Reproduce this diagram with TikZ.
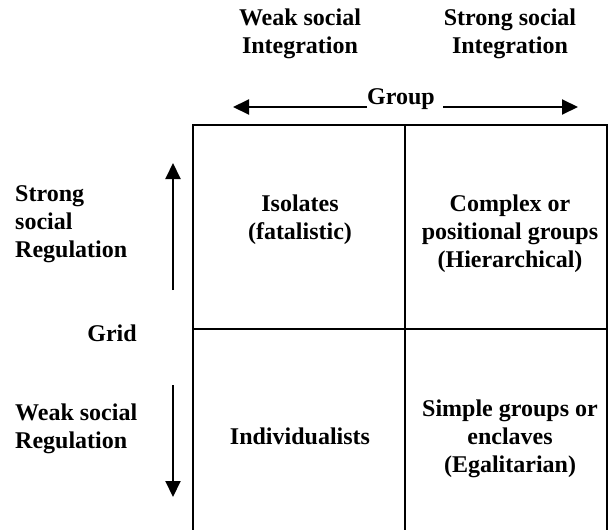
\documentclass[tikz,border=0pt]{standalone}
\usepackage{fontspec}
\setmainfont{Liberation Serif}
\usetikzlibrary{arrows.meta}
\begin{document}
\begin{tikzpicture}[x=1pt,y=-1pt,
  lbl/.style={font=\fontsize{24}{28}\selectfont\bfseries,align=center,inner sep=0pt},
  side/.style={lbl,align=left,anchor=west},
  gridline/.style={line width=2pt},
  axis/.style={line width=2pt,-{Triangle[length=16pt,width=15pt]}}]
  \clip (0,0) rectangle (608,530);
  \fill[white] (0,0) rectangle (608,530);

  % the two-by-two grid
  \draw[gridline] (193,560) -- (193,125) -- (607,125) -- (607,560);
  \draw[gridline] (405,125) -- (405,560);
  \draw[gridline] (193,329) -- (607,329);

  % column headings
  \node[lbl] (weakint) at (300,34) {Weak social\\Integration};
  \node[lbl] (strongint) at (510,34) {Strong social\\Integration};

  % group axis
  \node[lbl] (group) at (401,99) {Group};
  \coordinate (gleft) at (233,107);
  \coordinate (gright) at (578,107);
  \coordinate (gstart) at (443,107);
  \draw[axis] (group.west |- gleft) -- (gleft);
  \draw[axis] (gstart) -- (gright);

  % row headings
  \node[side] (strongreg) at (15,224) {Strong\\social\\Regulation};
  \node[lbl] (grid) at (112,333) {Grid};
  \node[side] (weakreg) at (15,429) {Weak social\\Regulation};

  % grid axis
  \coordinate (upfrom) at (173,290);
  \coordinate (upto) at (173,163);
  \coordinate (downfrom) at (173,385);
  \coordinate (downto) at (173,497);
  \draw[axis] (upfrom) -- (upto);
  \draw[axis] (downfrom) -- (downto);

  % cell contents
  \node[lbl] (isolates) at (300,220) {Isolates\\(fatalistic)};
  \node[lbl] (hier) at (510,234) {Complex or\\positional groups\\(Hierarchical)};
  \node[lbl] (indiv) at (300,436) {Individualists};
  \node[lbl] (egal) at (510,439) {Simple groups or\\enclaves\\(Egalitarian)};
\end{tikzpicture}
\end{document}
